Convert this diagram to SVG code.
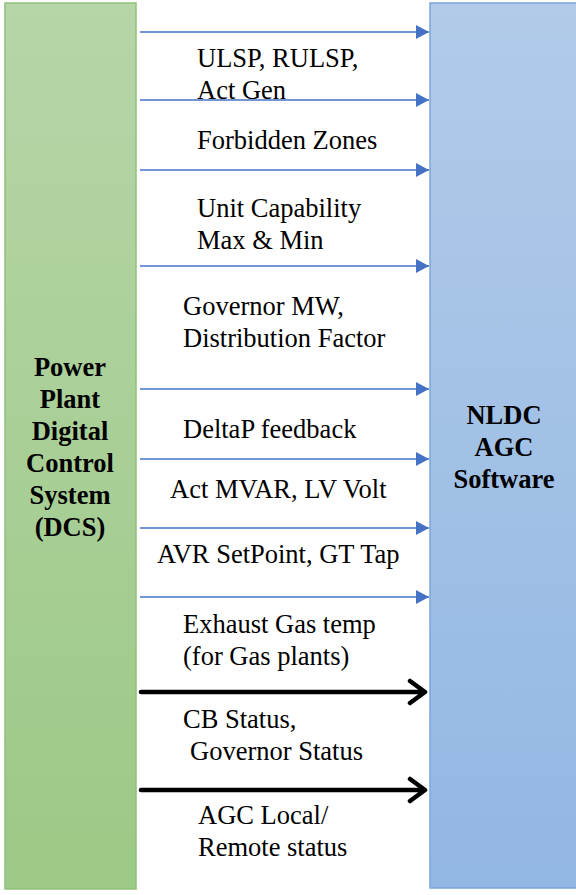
<svg xmlns="http://www.w3.org/2000/svg" width="576" height="895" viewBox="0 0 576 895">
<defs>
<linearGradient id="gGreen" x1="0" y1="0" x2="0" y2="1"><stop offset="0" stop-color="#b6d5a8"/><stop offset="1" stop-color="#9cc986"/></linearGradient>
<linearGradient id="gBlue" x1="0" y1="0" x2="0" y2="1"><stop offset="0" stop-color="#b1cbe9"/><stop offset="1" stop-color="#93b7e3"/></linearGradient>
<marker id="ah" markerUnits="userSpaceOnUse" markerWidth="14" markerHeight="16" refX="13" refY="7" orient="auto"><path d="M0,0 L13,7 L0,14 Z" fill="#4472c4"/></marker>
<style>
text{font-family:'Liberation Serif',Tinos,'Times New Roman',Times,'DejaVu Serif',serif;font-size:26.5px;fill:#000}
.bold{font-weight:bold;text-anchor:middle}
.blue{stroke:#4472c4;stroke-width:1.5;fill:none;marker-end:url(#ah)}
.black{stroke:#000;stroke-width:4.5;fill:none;stroke-linecap:round;stroke-linejoin:round}
</style>
</defs>
<rect width="576" height="895" fill="#fff"/>
<g id="dcs">
<rect x="5" y="3" width="131" height="886" fill="url(#gGreen)" stroke="#8fc07a" stroke-width="1.5"/>
<text class="bold" font-family="Liberation Serif, serif"><tspan x="70" y="376">Power</tspan><tspan x="70" y="408">Plant</tspan><tspan x="70" y="440">Digital</tspan><tspan x="70" y="472">Control</tspan><tspan x="70" y="504">System</tspan><tspan x="70" y="536">(DCS)</tspan></text>
</g>
<g id="agc">
<rect x="430" y="3" width="150" height="885" fill="url(#gBlue)" stroke="#7ba5da" stroke-width="1.5"/>
<text class="bold" font-family="Liberation Serif, serif"><tspan x="504" y="424">NLDC</tspan><tspan x="504" y="456">AGC</tspan><tspan x="504" y="488">Software</tspan></text>
</g>
<g id="connectors">
<line class="blue" x1="140" y1="32" x2="429" y2="32"/>
<line class="blue" x1="140" y1="100" x2="429" y2="100"/>
<line class="blue" x1="140" y1="170" x2="429" y2="170"/>
<line class="blue" x1="140" y1="266" x2="429" y2="266"/>
<line class="blue" x1="140" y1="389" x2="429" y2="389"/>
<line class="blue" x1="140" y1="459" x2="429" y2="459"/>
<line class="blue" x1="140" y1="528" x2="429" y2="528"/>
<line class="blue" x1="140" y1="597" x2="429" y2="597"/>
<path class="black" d="M141,692 H424 M410,681 L425,692 L410,703"/>
<path class="black" d="M141,790 H424 M410,779 L425,790 L410,801"/>
</g>
<g id="labels" font-family="Liberation Serif, serif">
<text x="197" y="67">ULSP, RULSP,</text>
<text x="197" y="99">Act Gen</text>
<text x="197" y="149">Forbidden Zones</text>
<text x="197" y="217">Unit Capability</text>
<text x="197" y="249">Max &amp; Min</text>
<text x="183" y="315">Governor MW,</text>
<text x="183" y="347">Distribution Factor</text>
<text x="183" y="438">DeltaP feedback</text>
<text x="170" y="498">Act MVAR, LV Volt</text>
<text x="157" y="563">AVR SetPoint, GT Tap</text>
<text x="183" y="633">Exhaust Gas temp</text>
<text x="183" y="665">(for Gas plants)</text>
<text x="183" y="728">CB Status,</text>
<text x="190" y="760">Governor Status</text>
<text x="198" y="824">AGC Local/</text>
<text x="198" y="856">Remote status</text>
</g>
</svg>
